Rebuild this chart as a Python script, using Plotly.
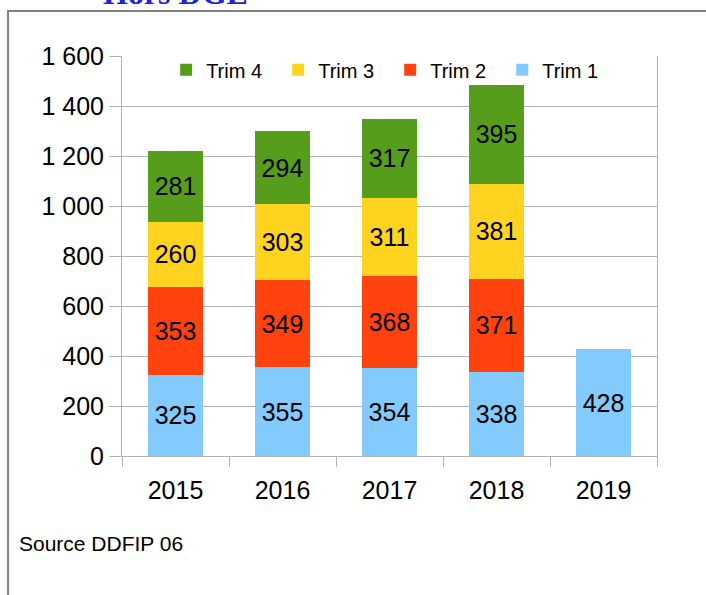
import plotly.graph_objects as go

years = ["2015", "2016", "2017", "2018", "2019"]
trim1 = [325, 355, 354, 338, 428]
trim2 = [353, 349, 368, 371, None]
trim3 = [260, 303, 311, 381, None]
trim4 = [281, 294, 317, 395, None]

series = [
    ("Trim 1", trim1, "#83CAFF"),
    ("Trim 2", trim2, "#FF420E"),
    ("Trim 3", trim3, "#FFD320"),
    ("Trim 4", trim4, "#579D1C"),
]

fig = go.Figure()
for name, vals, color in series:
    fig.add_trace(go.Bar(
        x=years, y=vals, name=name + "\u00a0\u00a0",
        marker=dict(color=color, line=dict(width=0)),
        text=[("" if v is None else str(v)) for v in vals],
        textposition="inside", insidetextanchor="middle", constraintext="none",
        textfont=dict(size=25, color="black", family="Liberation Sans"),
    ))

grid = "#b3b3b3"
fig.update_layout(
    width=706, height=595,
    margin=dict(l=122, r=49, t=56, b=139),
    barmode="stack", bargap=0.495,
    paper_bgcolor="white", plot_bgcolor="white",
    font=dict(family="Liberation Sans", color="black"),
    separators=", ",
    showlegend=True,
    legend=dict(orientation="h", traceorder="reversed", x=0.0825, y=1.0145,
                xanchor="left", yanchor="top", font=dict(size=20),
                bgcolor="rgba(0,0,0,0)", itemwidth=30),
)
fig.update_yaxes(range=[0, 1600], dtick=200, tickformat=",d",
                 showgrid=True, gridcolor=grid, gridwidth=1,
                 showline=True, linecolor=grid, mirror=True,
                 ticks="outside", ticklen=12, tickcolor=grid,
                 tickfont=dict(size=25), zeroline=False)
fig.update_xaxes(showline=True, linecolor=grid, tickson="boundaries",
                 ticks="outside", ticklen=10, tickcolor=grid,
                 ticklabelstandoff=12, tickfont=dict(size=25))

# frame around the chart and the cut title
fig.add_shape(type="rect", xref="paper", yref="paper",
              x0=-0.213, x1=1.5, y0=-0.6, y1=1.1125,
              line=dict(color="#808080", width=2), layer="below")
fig.add_annotation(text="<b>Hors DGE</b>", xref="paper", yref="paper",
                   x=0.1, y=1.108, xanchor="center", yanchor="bottom",
                   showarrow=False,
                   font=dict(family="Liberation Serif", size=32, color="#2020e0"))
fig.add_annotation(text="Source DDFIP 06", xref="paper", yref="paper",
                   x=-0.196, y=-0.2175, xanchor="left", yanchor="middle",
                   showarrow=False, font=dict(size=21))

fig.write_html("out.html", config={"displayModeBar": False},
               post_script="document.body.style.margin='0';")
